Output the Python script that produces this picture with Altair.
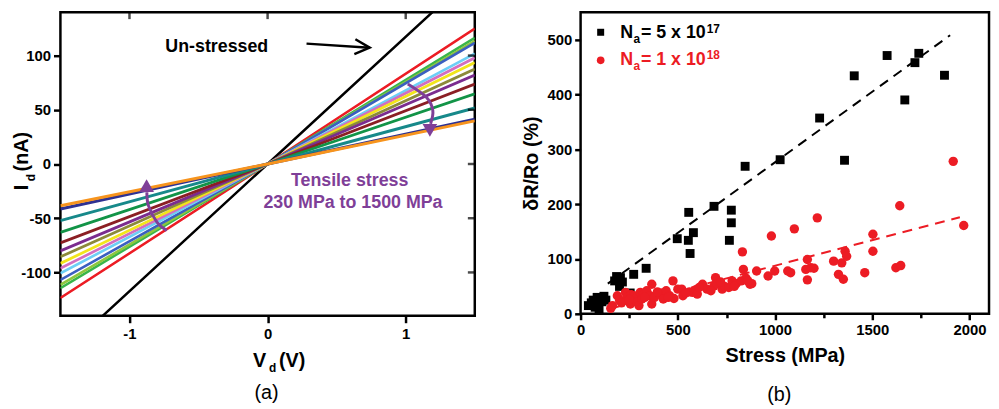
import altair as alt
import pandas as pd

FONT = "Liberation Sans"
PURPLE = "#7f3f98"
RED = "#ec1c24"

# ---------------- Panel (a): I-V curves ----------------
iv_names = ["Un-stressed", "S1", "S2", "S3", "S4", "S5", "S6", "S7",
            "S8", "S9", "S10", "S11", "S12", "S13", "S14"]
iv_v = [-1.5, 0.0, 1.5]
iv_left = [-176, -123.6, -114.5, -111.4, -106.9, -100.8, -96.3, -91.7,
           -85.6, -80.2, -72.7, -63.0, -52.2, -41.5, -38.5]
iv_right = [176, 124.9, 116.4, 113.5, 111.8, 101.8, 98.0, 93.6,
            87.5, 82.0, 73.8, 64.7, 51.7, 41.3, 39.8]
iv_colors = ["#000000", "#ec1c24", "#39b54a", "#8dc63f", "#3b5fc0", "#6dcff6",
             "#d26fbf", "#f2e51b", "#8c8a3a", "#7b2c8f", "#8b1f24", "#129447",
             "#17898a", "#2e3192", "#f7941d"]
iv_widths = [2.5, 3, 3, 3, 3, 3, 3, 3, 3, 3, 3, 3, 3, 1.5, 3.5]

a_xticks = [-1, 0, 1]
a_yticks = [-100, -50, 0, 50, 100]

# annotation arrows (data coordinates)
arrow_black_v = [0.282, 0.739]
arrow_black_i = [111.0, 107.3]
arrow_right_v = [1.015, 1.148, 1.196, 1.18]
arrow_right_i = [73.8, 61.7, 49.5, 37.0]
arrow_left_v = [-0.73, -0.80, -0.862, -0.874]
arrow_left_i = [-61.4, -53.8, -38.6, -26.0]

# ---------------- Panel (b): scatter ----------------
sq_stress = [40, 55, 65, 75, 85, 95, 100, 110, 120, 130, 90, 175, 185, 195,
             205, 215, 200, 255, 273, 337, 497, 554, 563, 556, 580, 686, 765,
             775, 775, 846, 1026, 1229, 1357, 1407, 1576, 1667, 1719, 1739, 1871]
sq_dr = [15, 20, 25, 12, 30, 8, 28, 22, 32, 25, 18, 60, 68, 62, 66, 58, 50,
         38, 72, 83, 137, 134, 110, 185, 148, 196, 134, 166, 189, 269, 281,
         357, 280, 434, 471, 390, 458, 475, 435]

ci_stress = [155, 164, 189, 200, 222, 231, 240, 256, 260, 273, 280, 290, 300,
             307, 315, 324, 340, 357, 366, 366, 380, 408, 420, 425, 440, 458,
             475, 480, 500, 520, 526, 560, 576, 593, 600, 627, 650, 686, 694,
             700, 728, 740, 762, 779, 800, 826, 832, 837, 850, 871, 880, 905,
             964, 981, 998, 1065, 1099, 1158, 1166, 1166, 1183, 1200, 1217,
             1301, 1326, 1343, 1351, 1360, 1368, 1461, 1503, 1503, 1621, 1641,
             1646, 1916, 1970, 210, 250, 330, 395, 450, 540, 610, 670, 720,
             790, 860, 1080]
ci_dr = [10, 15, 33, 25, 24, 39, 30, 18, 35, 33, 28, 21, 15, 39, 27, 36, 42,
         33, 54, 18, 30, 36, 38, 27, 42, 33, 60, 28, 45, 45, 33, 40, 39, 44,
         36, 54, 45, 51, 66, 55, 45, 50, 48, 60, 55, 60, 113, 81, 65, 54, 55,
         78, 69, 142, 78, 78, 155, 81, 99, 62, 84, 83, 175, 96, 72, 93, 63,
         114, 105, 75, 145, 114, 84, 197, 88, 278, 161, 20, 26, 30, 40, 30,
         38, 48, 42, 58, 50, 60, 75]

fit_sq_stress = [140, 1900]
fit_sq_dr = [55, 508]
fit_ci_stress = [150, 1950]
fit_ci_dr = [9, 176]

b_xticks = [0, 250, 500, 750, 1000, 1250, 1500, 1750, 2000]
b_yticks = [0, 50, 100, 150, 200, 250, 300, 350, 400, 450, 500]

W_A, H_A = 419, 307
W_B, H_B = 413, 305


def txt(s, x, y, size, color="black", weight="bold", align="left",
        baseline="alphabetic", angle=0):
    return alt.Chart(pd.DataFrame({"k": [0]})).mark_text(
        text=s, font=FONT, fontSize=size, fontWeight=weight, color=color,
        align=align, baseline=baseline, angle=angle
    ).encode(x=alt.value(x), y=alt.value(y))


# ---- build panel (a)
rows = []
for k, name in enumerate(iv_names):
    for v, cur in zip(iv_v, [iv_left[k], 0.0, iv_right[k]]):
        rows.append({"curve": name, "k": k, "V": v, "I": cur})
iv_df = pd.DataFrame(rows)

xa = alt.X("V:Q", scale=alt.Scale(domain=[-1.5, 1.5], nice=False, zero=False),
           axis=alt.Axis(values=a_xticks, title=None, tickSize=7, labelPadding=4,
                         labelFontSize=15, labelFlush=False,
                         labelExpr="datum.value < 0 ? '-' + abs(datum.value) : '' + datum.value"))
ya = alt.Y("I:Q", scale=alt.Scale(domain=[-140, 140], nice=False, zero=False),
           axis=alt.Axis(values=a_yticks, title=None, tickSize=7, labelPadding=3,
                         labelFontSize=15,
                         labelExpr="datum.value < 0 ? '-' + abs(datum.value) : '' + datum.value"))

lines = alt.Chart(iv_df).mark_line(clip=True).encode(
    x=xa, y=ya,
    color=alt.Color("curve:N", scale=alt.Scale(domain=iv_names, range=iv_colors), legend=None),
    strokeWidth=alt.StrokeWidth("curve:N", scale=alt.Scale(domain=iv_names, range=iv_widths), legend=None),
    order="k:Q",
)

top_ticks = alt.Chart(pd.DataFrame({"V": a_xticks})).mark_tick(
    color="black", thickness=2.5, size=7).encode(x=alt.X("V:Q"), y=alt.value(3.5))
right_ticks = alt.Chart(pd.DataFrame({"I": a_yticks})).mark_tick(
    color="black", thickness=2.5, size=7).encode(y=alt.Y("I:Q"), x=alt.value(W_A - 3.5))

blk_arrow_df = pd.DataFrame({"V": arrow_black_v, "I": arrow_black_i, "o": [0, 1]})
blk_arrow = alt.Chart(blk_arrow_df).mark_line(color="black", strokeWidth=2.5).encode(
    x="V:Q", y="I:Q", order="o:Q")
blk_head = alt.Chart(blk_arrow_df.iloc[[1]]).mark_point(
    shape="M -1 -0.5 L 0 0 L -1 0.5", size=900, filled=False, color="black",
    strokeWidth=2.5, angle=4, opacity=1).encode(x="V:Q", y="I:Q")

r_df = pd.DataFrame({"V": arrow_right_v, "I": arrow_right_i, "o": range(4)})
l_df = pd.DataFrame({"V": arrow_left_v, "I": arrow_left_i, "o": range(4)})
r_curve = alt.Chart(r_df).mark_line(color=PURPLE, strokeWidth=3, interpolate="cardinal").encode(
    x="V:Q", y="I:Q", order="o:Q")
l_curve = alt.Chart(l_df).mark_line(color=PURPLE, strokeWidth=3, interpolate="cardinal").encode(
    x="V:Q", y="I:Q", order="o:Q")
r_head = alt.Chart(pd.DataFrame({"V": [1.175], "I": [31]})).mark_point(
    shape="triangle-down", size=220, filled=True, color=PURPLE, opacity=1).encode(x="V:Q", y="I:Q")
l_head = alt.Chart(pd.DataFrame({"V": [-0.876], "I": [-20]})).mark_point(
    shape="triangle-up", size=220, filled=True, color=PURPLE, opacity=1).encode(x="V:Q", y="I:Q")

ann_black = alt.Chart(pd.DataFrame({
    "V": [-0.368], "I": [107.6], "t": ["Un-stressed"]})).mark_text(
    font=FONT, fontSize=18, fontWeight="bold", baseline="middle", color="black").encode(
    x="V:Q", y="I:Q", text="t:N")
ann_purple = alt.Chart(pd.DataFrame({
    "V": [0.594, 0.618], "I": [-15.8, -35.6],
    "t": ["Tensile stress", "230 MPa to 1500 MPa"]})).mark_text(
    font=FONT, fontSize=18, fontWeight="bold", baseline="middle", color=PURPLE).encode(
    x="V:Q", y="I:Q", text="t:N")

a_titles = [
    txt("V", 208, 359, 20, align="right"),
    txt("d", 211, 364, 12),
    txt("(V)", 221, 359, 20),
    txt("I", -33, 180, 20, angle=270),
    txt("d", -25.5, 171, 12, angle=270),
    txt("(nA)", -33, 161, 20, angle=270),
    txt("(a)", 208.5, 385, 20, weight="normal", align="center", baseline="middle"),
]

panel_a = alt.layer(lines, top_ticks, right_ticks, blk_arrow, blk_head, r_curve, l_curve,
                    r_head, l_head, ann_black, ann_purple, *a_titles).properties(
    width=W_A, height=H_A)

# ---- build panel (b)
xb = alt.X("S:Q", scale=alt.Scale(domain=[0, 2100], nice=False),
           axis=alt.Axis(values=b_xticks, title="Stress (MPa)", labelFontSize=15,
                         labelFlush=False, labelOverlap=False, labelPadding=3,
                         labelExpr="datum.value % 500 === 0 ? datum.label : ''",
                         tickSize={"expr": "datum.value % 500 === 0 ? 6 : 4"},
                         titlePadding=8, format="d"))
yb = alt.Y("R:Q", scale=alt.Scale(domain=[0, 550], nice=False),
           axis=alt.Axis(values=b_yticks, title="δR/Ro (%)", labelFontSize=15,
                         labelOverlap=False, labelPadding=3,
                         labelExpr="datum.value % 100 === 0 ? datum.label : ''",
                         tickSize={"expr": "datum.value % 100 === 0 ? 6 : 4"},
                         titlePadding=6, format="d"))

fit_sq = alt.Chart(pd.DataFrame({"S": fit_sq_stress, "R": fit_sq_dr})).mark_line(
    color="black", strokeWidth=2, strokeDash=[10, 7]).encode(x=xb, y=yb)
fit_ci = alt.Chart(pd.DataFrame({"S": fit_ci_stress, "R": fit_ci_dr})).mark_line(
    color=RED, strokeWidth=2, strokeDash=[10, 7]).encode(x="S:Q", y="R:Q")
squares = alt.Chart(pd.DataFrame({"S": sq_stress, "R": sq_dr})).mark_point(
    shape="square", filled=True, size=81, color="black", opacity=1).encode(x="S:Q", y="R:Q")
circles = alt.Chart(pd.DataFrame({"S": ci_stress, "R": ci_dr})).mark_circle(
    size=90, color=RED, opacity=1).encode(x="S:Q", y="R:Q")

leg_sq = alt.Chart(pd.DataFrame({"k": [0]})).mark_point(
    shape="square", filled=True, size=50, color="black", opacity=1).encode(
    x=alt.value(20.3), y=alt.value(20.3))
leg_ci = alt.Chart(pd.DataFrame({"k": [0]})).mark_point(
    shape="circle", filled=True, size=60, color=RED, opacity=1).encode(
    x=alt.value(20.3), y=alt.value(48.7))

b_texts = [
    txt("N", 40, 26.3, 18),
    txt("a", 53.5, 31.3, 12),
    txt("= 5 x 10", 61, 26.3, 18),
    txt("17", 127.5, 21, 12),
    txt("N", 40, 53, 18, color=RED),
    txt("a", 53.5, 58, 12, color=RED),
    txt("= 1 x 10", 61, 53, 18, color=RED),
    txt("18", 127.5, 47.7, 12, color=RED),
    txt("(b)", 201, 387, 20, weight="normal", align="center", baseline="middle"),
]

panel_b = alt.layer(fit_sq, fit_ci, squares, circles, leg_sq, leg_ci, *b_texts).properties(
    width=W_B, height=H_B)

chart = alt.hconcat(panel_a, panel_b, spacing=43).properties(
    padding={"left": 2, "top": 0, "right": 0, "bottom": 0}
).configure_view(stroke="black", strokeWidth=2.5).configure_axis(
    labelFont=FONT, labelFontWeight="bold", labelColor="black",
    tickColor="black", tickWidth=2.5, domain=False, grid=False,
    titleFont=FONT, titleFontSize=20, titleFontWeight="bold", titleColor="black",
)

chart.save("out.html", embed_options={"renderer": "svg", "actions": False})
